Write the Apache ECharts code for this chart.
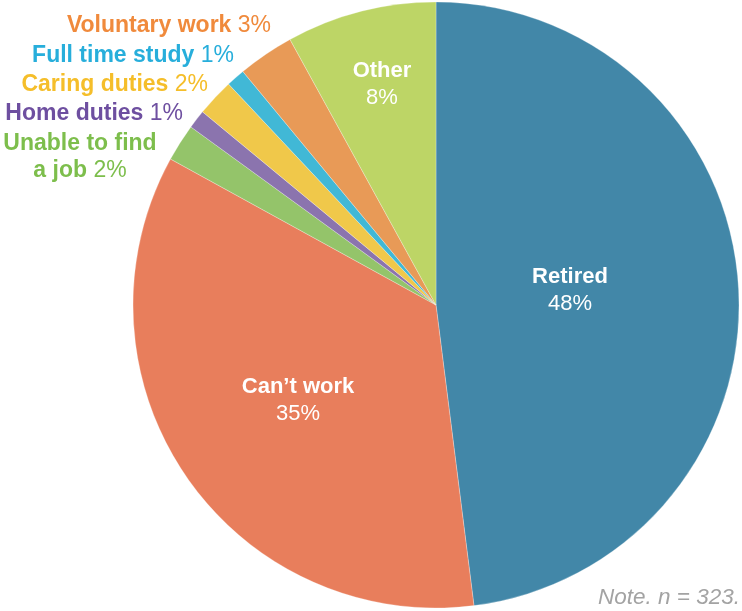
<!DOCTYPE html>
<html>
<head>
<meta charset="utf-8">
<script src="https://cdn.jsdelivr.net/npm/echarts@6/dist/echarts.min.js"></script>
<style>
  html, body { margin: 0; padding: 0; background: #ffffff; }
  #chart { width: 742px; height: 611px; }
</style>
</head>
<body>
<div id="chart"></div>
<script>
// Main activity of respondents not in paid work (clockwise from 12 o'clock)
const categories = ['Retired', 'Can\u2019t work', 'Unable to find a job', 'Home duties', 'Caring duties', 'Full time study', 'Voluntary work', 'Other'];
const shares = [48, 35, 2, 1, 2, 1, 3, 8];
const sliceColors = ['#4287a8', '#e87e5c', '#94c46a', '#8b74ae', '#f0c84a', '#41b8d6', '#e89a57', '#bdd566'];
const labelColors = ['#ffffff', '#ffffff', '#7dbe4c', '#6e4fa0', '#f5be2a', '#27aedb', '#f08a3c', '#ffffff'];
const noteText = 'Note. n = 323.';

// slices whose label sits on the slice itself
const insideSet = new Set(['Retired', 'Can\u2019t work', 'Other']);

// label anchor per slice: [x, y, align]
const labelAnchors = {
  'Retired': [570, 290, 'center'],
  'Can\u2019t work': [298, 400, 'center'],
  'Other': [382, 84, 'center'],
  'Voluntary work': [271, 26, 'right'],
  'Full time study': [234, 56, 'right'],
  'Caring duties': [208, 85, 'right'],
  'Home duties': [183, 114, 'right'],
  'Unable to find a job': [80, 157, 'center']
};

const FONT = 'Liberation Sans, Arial, sans-serif';

const data = categories.map((name, i) => {
  const c = labelColors[i];
  const size = insideSet.has(name) ? 22 : 23;
  return {
    name: name,
    value: shares[i],
    itemStyle: { color: sliceColors[i] },
    label: {
      rich: {
        n: { color: c, fontWeight: 'bold', fontSize: size, lineHeight: 27, fontFamily: FONT },
        p: { color: c, fontWeight: 'normal', fontSize: size, lineHeight: 27, fontFamily: FONT }
      }
    }
  };
});

function formatLabel(p) {
  const pct = p.value + '%';
  if (insideSet.has(p.name)) return '{n|' + p.name + '}\n{p|' + pct + '}';
  if (p.name === 'Unable to find a job') return '{n|Unable to find}\n{n|a job}{p| ' + pct + '}';
  return '{n|' + p.name + '}{p| ' + pct + '}';
}

const chart = echarts.init(document.getElementById('chart'), null, { renderer: 'canvas' });
chart.setOption({
  animation: false,
  backgroundColor: '#ffffff',
  series: [{
    type: 'pie',
    center: [436, 305],
    radius: [0, 303],
    startAngle: 90,
    clockwise: true,
    avoidLabelOverlap: false,
    silent: true,
    itemStyle: { borderColor: 'rgba(255,255,255,0.45)', borderWidth: 0.6 },
    label: {
      show: true,
      position: 'outside',
      formatter: formatLabel,
      align: 'center'
    },
    labelLine: { show: false },
    labelLayout: function (params) {
      const name = categories[params.dataIndex];
      const a = labelAnchors[name];
      return { x: a[0], y: a[1], align: a[2], verticalAlign: 'middle' };
    },
    data: data
  }],
  graphic: [{
    type: 'text',
    right: 2,
    top: 586,
    style: {
      text: noteText,
      fill: '#a3a3a3',
      font: 'italic 22.5px "Liberation Sans", Arial, sans-serif'
    }
  }]
});
</script>
</body>
</html>
